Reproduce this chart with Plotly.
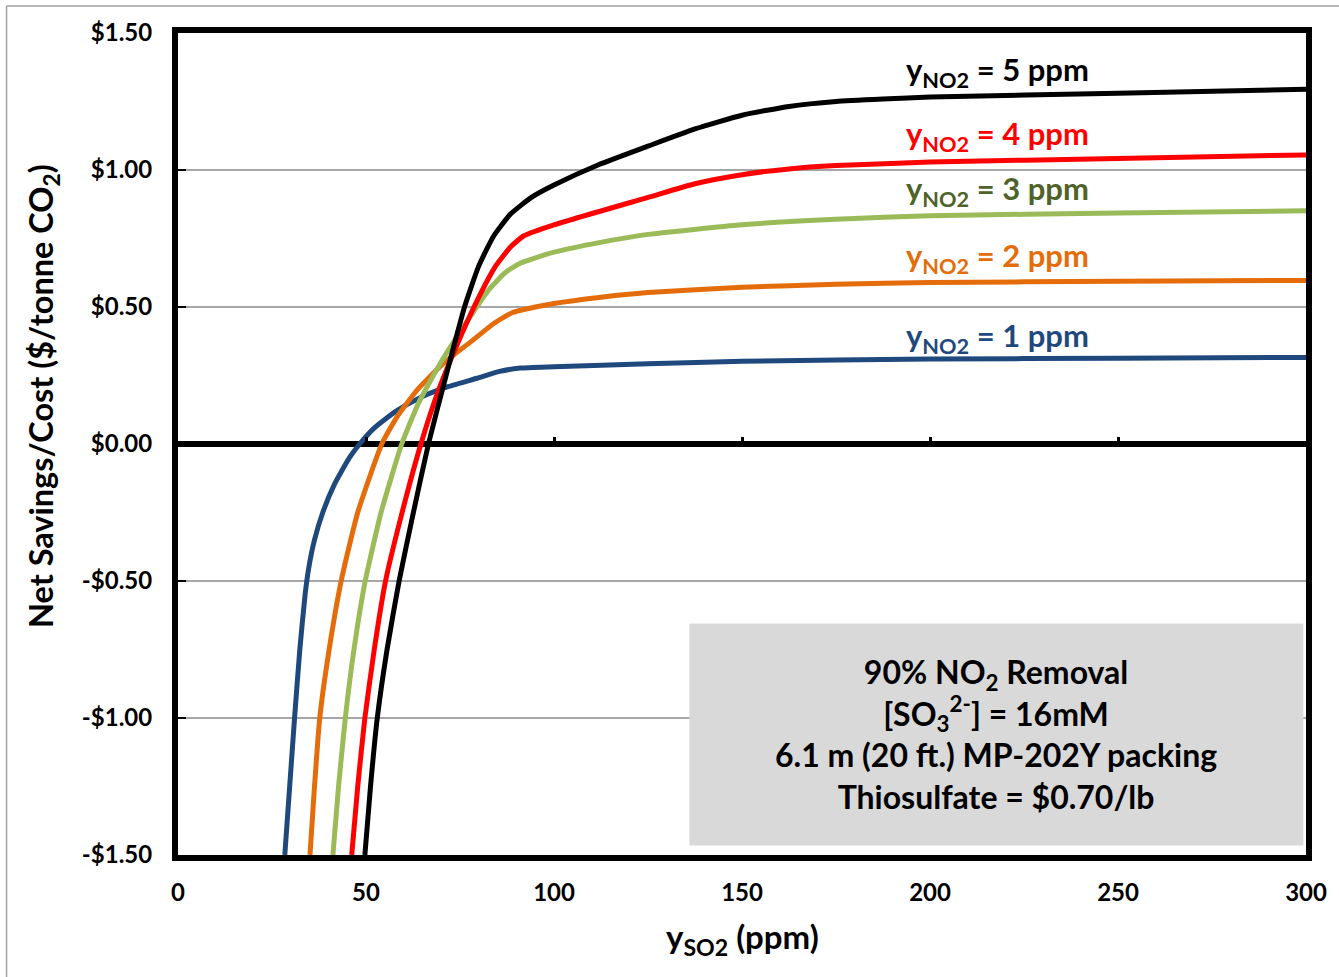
import plotly.graph_objects as go

# ---------------- data ----------------
x_no2_1 = [28.4, 29.7, 31.0, 32.4, 33.8, 34.8, 36.3, 38.5, 41.5, 45.6, 48.3, 52.3, 58.0, 64.5, 72, 79.5, 85.5, 91, 100, 125, 150, 200, 250, 300]
y_no2_1 = [-1.5, -1.25, -1.0, -0.75, -0.55, -0.45, -0.35, -0.25, -0.15, -0.05, 0.0, 0.06, 0.12, 0.17, 0.21, 0.24, 0.265, 0.277, 0.282, 0.293, 0.302, 0.31, 0.313, 0.316]

x_no2_2 = [35.1, 36.3, 37.7, 40.2, 43.4, 47.8, 54.2, 58.3, 63.8, 71.0, 77.6, 84.0, 89, 95, 100, 112, 125, 150, 175, 200, 250, 300]
y_no2_2 = [-1.5, -1.25, -1.0, -0.75, -0.5, -0.25, 0.0, 0.1, 0.2, 0.3, 0.37, 0.44, 0.48, 0.50, 0.513, 0.535, 0.553, 0.572, 0.583, 0.589, 0.594, 0.597]

x_no2_3 = [41.2, 42.7, 44.5, 46.8, 49.8, 54.0, 59.5, 64.0, 70.0, 77.0, 82.5, 87, 91, 100, 112, 125, 150, 175, 200, 250, 300]
y_no2_3 = [-1.5, -1.25, -1.0, -0.75, -0.5, -0.25, 0.0, 0.15, 0.3, 0.45, 0.56, 0.625, 0.66, 0.70, 0.735, 0.765, 0.80, 0.82, 0.833, 0.843, 0.851]

x_no2_4 = [46.2, 47.8, 49.7, 52.2, 55.2, 59.6, 64.6, 69.4, 75.4, 80.5, 84.5, 88.5, 92, 100, 125, 137.5, 150, 162.5, 175, 200, 250, 300]
y_no2_4 = [-1.5, -1.25, -1.0, -0.75, -0.5, -0.25, 0.0, 0.2, 0.4, 0.55, 0.65, 0.72, 0.76, 0.80, 0.90, 0.95, 0.983, 1.004, 1.016, 1.029, 1.042, 1.055]

x_no2_5 = [49.7, 51.2, 53.0, 55.6, 58.8, 62.6, 66.6, 71.3, 76.2, 80.0, 84.0, 88.5, 94, 100, 112, 125, 137.5, 150, 162.5, 175, 187.5, 200, 250, 300]
y_no2_5 = [-1.5, -1.25, -1.0, -0.75, -0.5, -0.25, 0.0, 0.25, 0.5, 0.65, 0.76, 0.84, 0.90, 0.945, 1.02, 1.087, 1.15, 1.2, 1.232, 1.250, 1.259, 1.266, 1.28, 1.295]

series_names = ["y<sub>NO2</sub> = 1 ppm", "y<sub>NO2</sub> = 2 ppm", "y<sub>NO2</sub> = 3 ppm",
                "y<sub>NO2</sub> = 4 ppm", "y<sub>NO2</sub> = 5 ppm"]
line_colors = ["#1F497D", "#E46C0A", "#9BBB59", "#FF0000", "#000000"]
label_colors = ["#1F497D", "#E46C0A", "#4F6228", "#FF0000", "#000000"]
label_x = [218, 218, 218, 218, 218]
label_y = [0.39, 0.68, 0.925, 1.125, 1.36]

x_ticks = [0, 50, 100, 150, 200, 250, 300]
y_ticks = [-1.5, -1.0, -0.5, 0.0, 0.5, 1.0, 1.5]
y_tick_text = ["-$1.50", "-$1.00", "-$0.50", "$0.00", "$0.50", "$1.00", "$1.50"]

box_lines = ["90% NO<sub>2</sub> Removal",
             "[SO<sub>3</sub><sup>2-</sup>] = 16mM",
             "6.1 m (20 ft.) MP-202Y packing",
             "Thiosulfate = $0.70/lb"]

FONT = "Lato"

fig = go.Figure()
xs = [x_no2_1, x_no2_2, x_no2_3, x_no2_4, x_no2_5]
ys = [y_no2_1, y_no2_2, y_no2_3, y_no2_4, y_no2_5]
for xv, yv, c, n in zip(xs, ys, line_colors, series_names):
    fig.add_trace(go.Scatter(x=xv, y=yv, mode="lines", name=n,
                             line=dict(color=c, width=5, shape="spline", smoothing=0.5),
                             showlegend=False, hoverinfo="skip"))

# invisible trace on secondary x axis for tick marks on the zero line
fig.add_trace(go.Scatter(x=[x_ticks[0], x_ticks[-1]], y=[0, 0], xaxis="x2", mode="lines",
                         line=dict(width=0), showlegend=False, hoverinfo="skip"))

# annotation box (decoration)
fig.add_shape(type="rect", xref="x", yref="y", x0=136, x1=299.3, y0=-1.465, y1=-0.655,
              fillcolor="#D9D9D9", line=dict(width=0), layer="above")

fig.update_layout(
    width=1339, height=977,
    margin=dict(l=178, r=33, t=33, b=122),
    paper_bgcolor="white", plot_bgcolor="white",
    font=dict(family=FONT, color="black", size=24, weight="bold"),
    xaxis=dict(range=[0, 300], tickvals=x_ticks, ticktext=[str(v) for v in x_ticks],
               showgrid=False, zeroline=False, showline=True, linecolor="black", linewidth=6,
               mirror=True, ticks="outside", ticklen=11, tickcolor="rgba(0,0,0,0)",
               tickfont=dict(family=FONT, size=24, color="black", weight="bold")),
    xaxis2=dict(range=[0, 300], overlaying="x", anchor="free", position=0.5, side="top",
                tickvals=x_ticks[1:-1], showticklabels=False, ticks="outside", ticklen=7,
                tickwidth=3, tickcolor="black", showgrid=False, zeroline=False, showline=False),
    yaxis=dict(range=[-1.5, 1.5], tickvals=y_ticks, ticktext=y_tick_text,
               showgrid=True, gridcolor="#A6A6A6", gridwidth=1.5,
               zeroline=True, zerolinecolor="black", zerolinewidth=6,
               showline=True, linecolor="black", linewidth=6, mirror=True,
               ticks="inside", ticklen=8, tickwidth=2, tickcolor="black",
               ticklabelstandoff=15,
               tickfont=dict(family=FONT, size=24, color="black", weight="bold")),
)

annotations = []
for t, c, lx, ly in zip(series_names, label_colors, label_x, label_y):
    annotations.append(dict(x=lx, y=ly, xref="x", yref="y", text="<b>" + t + "</b>", showarrow=False,
                            font=dict(family=FONT, size=31, color=c, weight="bold"),
                            xanchor="center", yanchor="middle"))
annotations.append(dict(x=217.6, y=-1.06, xref="x", yref="y",
                        text="<br>".join("<b>" + s + "</b>" for s in box_lines),
                        showarrow=False, align="center",
                        font=dict(family=FONT, size=32, color="black", weight="bold"),
                        xanchor="center", yanchor="middle"))
annotations.append(dict(x=-0.119, y=0.558, xref="paper", yref="paper",
                        text="<b>Net Savings/Cost ($/tonne CO<sub>2</sub>)</b>", textangle=-90,
                        showarrow=False, xanchor="center", yanchor="middle",
                        font=dict(family=FONT, size=32.5, color="black", weight="bold")))
annotations.append(dict(x=150, y=-0.101, xref="x", yref="paper",
                        text="<b>y<sub>SO2</sub> (ppm)</b>", showarrow=False,
                        xanchor="center", yanchor="middle",
                        font=dict(family=FONT, size=33, color="black", weight="bold")))
fig.update_layout(annotations=annotations)

# outer thin gray frame (top & left edges visible in reference)
fig.add_shape(type="line", xref="paper", yref="paper", x0=-0.152, x1=1.05, y0=1.0328, y1=1.0328,
              line=dict(color="#A0A0A0", width=1.5))
fig.add_shape(type="line", xref="paper", yref="paper", x0=-0.152, x1=-0.152, y0=-0.16, y1=1.0328,
              line=dict(color="#A0A0A0", width=1.5))

fig.write_html("out.html")
